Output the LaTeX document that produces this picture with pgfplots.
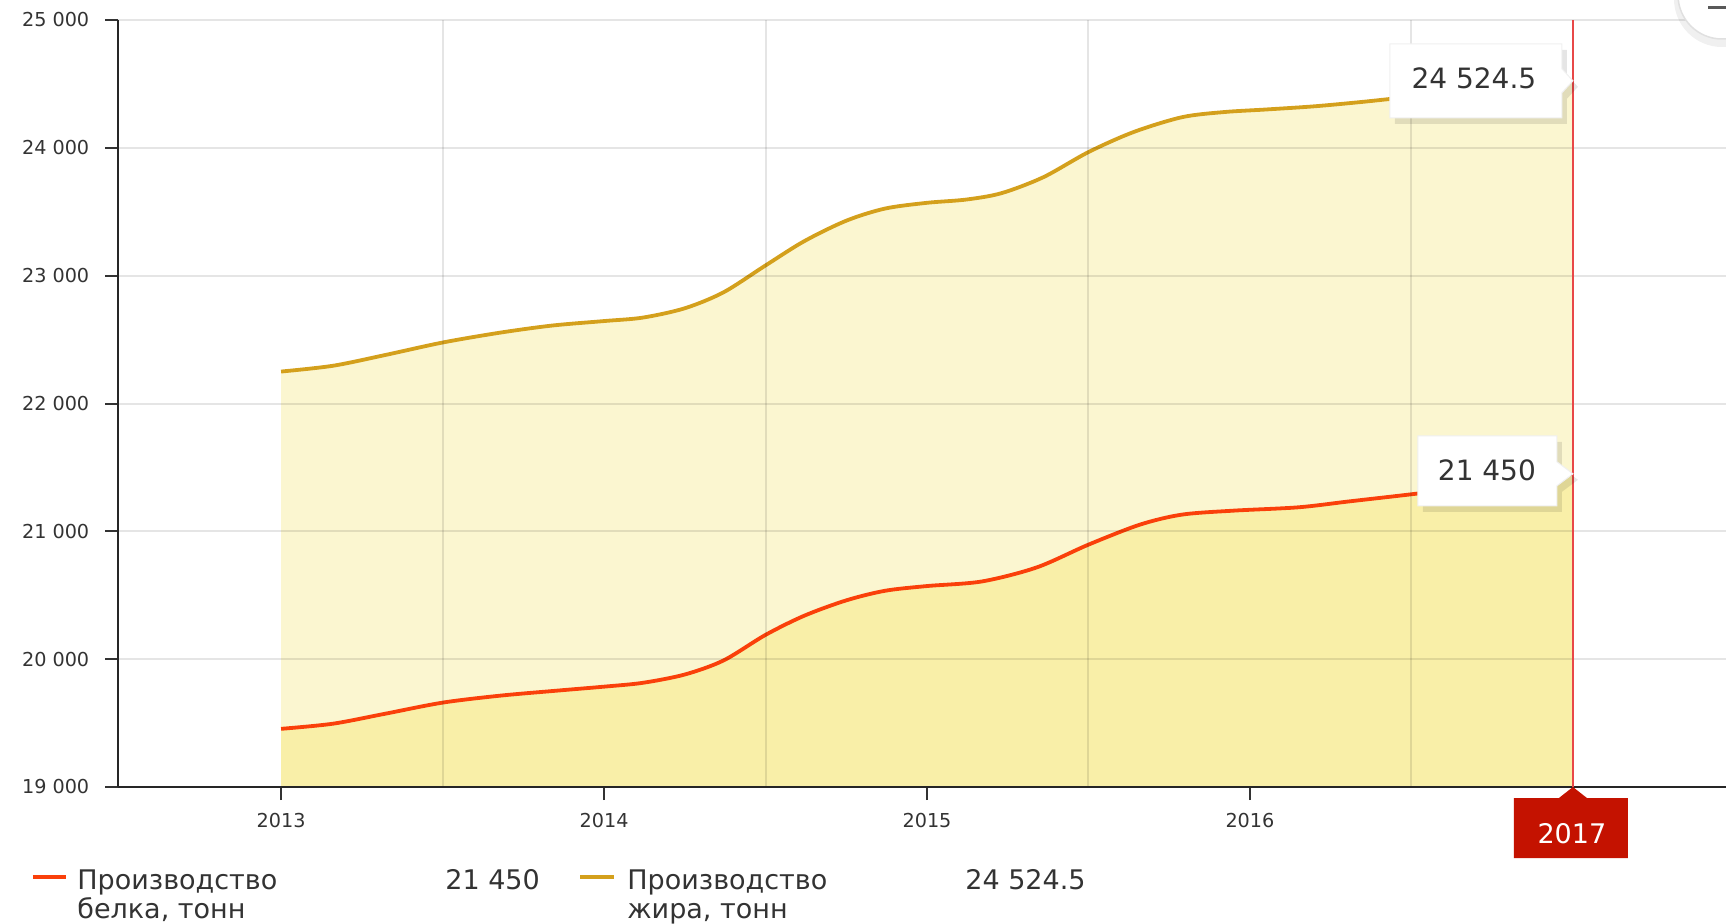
\documentclass[border=0pt]{standalone}
\usepackage{pgfplots}
\usepackage{pgfplotstable}
\pgfplotsset{compat=1.18}
\usepackage{fontspec}
\setmainfont{DejaVu Sans}
\definecolor{goldline}{RGB}{212,160,28}
\definecolor{redline}{RGB}{250,64,10}
\definecolor{goldfill}{RGB}{251,246,208}
\definecolor{redfill}{RGB}{249,239,168}
\definecolor{vline}{RGB}{232,72,72}
\definecolor{boxred}{RGB}{196,18,0}
\definecolor{txt}{RGB}{51,51,51}

\pgfplotstableread{
x y
2013.00 22250
2013.16 22295
2013.32 22378
2013.50 22477
2013.68 22555
2013.84 22610
2014.00 22645
2014.12 22672
2014.25 22745
2014.37 22870
2014.50 23080
2014.62 23270
2014.75 23430
2014.87 23525
2015.00 23570
2015.12 23595
2015.23 23645
2015.36 23770
2015.50 23967
2015.64 24124
2015.79 24240
2015.92 24280
2016.05 24300
2016.20 24325
2016.35 24360
2016.50 24400
2016.75 24462
2017.00 24524.5
}\gold

\pgfplotstableread{
x y
2013.00 19455
2013.16 19495
2013.32 19572
2013.50 19660
2013.68 19715
2013.86 19755
2014.00 19785
2014.12 19815
2014.25 19880
2014.37 19990
2014.50 20190
2014.62 20340
2014.75 20460
2014.87 20535
2015.00 20572
2015.17 20608
2015.34 20718
2015.50 20896
2015.66 21053
2015.79 21131
2015.95 21162
2016.15 21188
2016.31 21235
2016.52 21296
2016.75 21370
2017.00 21450
}\red

\begin{document}
\begin{tikzpicture}
\useasboundingbox (-59pt,-68pt) rectangle (804pt,393.5pt);
\begin{axis}[
  scale only axis, width=804pt, height=383.5pt,
  xmin=2012.495, xmax=2017.474, ymin=19000, ymax=25000,
  axis x line=bottom, axis y line=left,
  axis line style={-, line width=1pt, color=black!85},
  axis on top,
  xtick={2013,2014,2015,2016,2017},
  xticklabels={2013,2014,2015,2016,},
  ytick={19000,20000,21000,22000,23000,24000,25000},
  yticklabels={19 000,20 000,21 000,22 000,23 000,24 000,25 000},
  minor xtick={2013.5,2014.5,2015.5,2016.5},
  ymajorgrids, xminorgrids,
  grid style={black, opacity=0.1, line width=1pt},
  minor grid style={black, opacity=0.1, line width=1pt},
  tick align=outside, major tick length=6.5pt, minor tick length=0pt,
  tick style={line width=1pt, color=black!80},
  ticklabel style={font=\fontsize{9.6}{11}\selectfont, text=txt},
  xticklabel style={yshift=-3.3pt},
  yticklabel style={inner sep=0.5pt, xshift=-7.2pt},
  /pgf/number format/assume math mode=true,
  clip=true,
]
\addplot[draw=none, fill=goldfill, smooth] table[x=x,y=y]{\gold} \closedcycle;
\addplot[draw=none, fill=redfill, smooth] table[x=x,y=y]{\red} \closedcycle;
\addplot[goldline, line width=1.9pt, smooth] table[x=x,y=y]{\gold};
\addplot[redline, line width=1.9pt, smooth] table[x=x,y=y]{\red};
\coordinate (TG) at (axis cs:2017,24524.5);
\coordinate (TR) at (axis cs:2017,21450);
\coordinate (B) at (axis cs:2017,19000);
\coordinate (T) at (axis cs:2017,25000);
\end{axis}

% vertical crosshair
\draw[vline, line width=1pt] (B) -- (T);

% gold tooltip
\begin{scope}[shift={(TG)}]
  \begin{scope}[shift={(2.5pt,-3pt)}]
    \fill[black, opacity=0.1] (-91.5pt,18.5pt) -- (-5.5pt,18.5pt) -- (-5.5pt,6pt) -- (0,0) -- (-5.5pt,-6pt) -- (-5.5pt,-18.5pt) -- (-91.5pt,-18.5pt) -- cycle;
  \end{scope}
  \filldraw[fill=white, draw=black!6, line width=0.5pt] (-91.5pt,18.5pt) -- (-5.5pt,18.5pt) -- (-5.5pt,6pt) -- (0,0) -- (-5.5pt,-6pt) -- (-5.5pt,-18.5pt) -- (-91.5pt,-18.5pt) -- cycle;
  \node[font=\fontsize{14}{16}\selectfont, text=txt, inner sep=0] at (-49.5pt,1pt) {24 524.5};
\end{scope}

% red tooltip
\begin{scope}[shift={(TR)}]
  \begin{scope}[shift={(2.5pt,-3pt)}]
    \fill[black, opacity=0.1] (-77.5pt,19pt) -- (-8pt,19pt) -- (-8pt,6pt) -- (0,0) -- (-8pt,-6pt) -- (-8pt,-16pt) -- (-77.5pt,-16pt) -- cycle;
  \end{scope}
  \filldraw[fill=white, draw=black!6, line width=0.5pt] (-77.5pt,19pt) -- (-8pt,19pt) -- (-8pt,6pt) -- (0,0) -- (-8pt,-6pt) -- (-8pt,-16pt) -- (-77.5pt,-16pt) -- cycle;
  \node[font=\fontsize{14}{16}\selectfont, text=txt, inner sep=0] at (-43pt,2pt) {21 450};
\end{scope}

% 2017 x label box
\begin{scope}[shift={(B)}]
  \fill[boxred] (0,0) -- (7pt,-5.5pt) -- (27.5pt,-5.5pt) -- (27.5pt,-35.5pt) -- (-29.5pt,-35.5pt) -- (-29.5pt,-5.5pt) -- (-7pt,-5.5pt) -- cycle;
  \node[font=\fontsize{13.5}{15}\selectfont, text=white, inner sep=0] at (-0.5pt,-23.5pt) {2017};
\end{scope}

% export button (partly visible)
\fill[black, opacity=0.06] (802pt,394pt) circle (24pt);
\filldraw[fill=white, draw=black!12, line width=0.75pt] (802pt,396pt) circle (22pt);
\draw[black!65, line width=1.5pt] (795pt,389.5pt) -- (806pt,389.5pt);

% legend
\draw[redline, line width=2pt] (-42.5pt,-45pt) -- (-26pt,-45pt);
\node[anchor=base west, inner sep=0, font=\fontsize{13.5}{15}\selectfont, text=txt] at (-20.5pt,-51pt) {Производство};
\node[anchor=base west, inner sep=0, font=\fontsize{13.5}{15}\selectfont, text=txt] at (-20.5pt,-65.5pt) {белка, тонн};
\node[anchor=base west, inner sep=0, font=\fontsize{13.5}{15}\selectfont, text=txt] at (163.5pt,-51pt) {21 450};
\draw[goldline, line width=2pt] (231pt,-45pt) -- (248pt,-45pt);
\node[anchor=base west, inner sep=0, font=\fontsize{13.5}{15}\selectfont, text=txt] at (254.5pt,-51pt) {Производство};
\node[anchor=base west, inner sep=0, font=\fontsize{13.5}{15}\selectfont, text=txt] at (254.5pt,-65.5pt) {жира, тонн};
\node[anchor=base west, inner sep=0, font=\fontsize{13.5}{15}\selectfont, text=txt] at (423.5pt,-51pt) {24 524.5};
\end{tikzpicture}
\end{document}
